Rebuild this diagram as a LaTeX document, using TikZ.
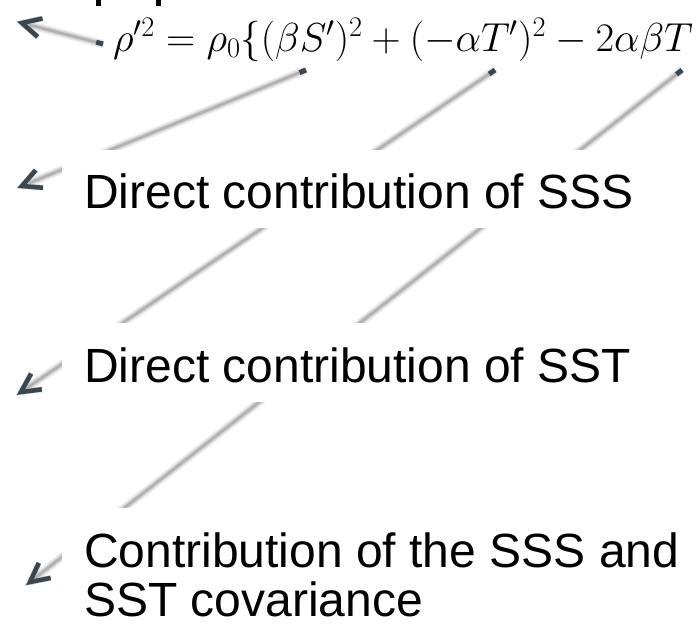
\documentclass[tikz,border=0pt]{standalone}
\usepackage{fix-cm}
\usepackage{fontspec}
\setmainfont{Liberation Sans}
\usetikzlibrary{calc}
\definecolor{arrowdark}{HTML}{3B4650}
\tikzset{
  x=1pt, y=-1pt,
  labeltext/.style={font=\fontsize{48}{49}\selectfont, anchor=base west, inner sep=0pt, align=left},
  eqtext/.style={font=\fontsize{40.5}{44}\selectfont, anchor=base west, inner sep=0pt},
  shaft/.style={draw=black!30, line width=2.8pt,
    preaction={draw=black!7, line width=8.5pt},
    preaction={draw=black!16, line width=5.5pt}},
  stub/.style={draw=arrowdark, line width=5pt},
  barb/.style={draw=arrowdark, line width=4.5pt, line join=miter},
  barbshadow/.style={draw=black!22, line width=5.5pt, line join=miter},
  coverbox/.style={fill=white, draw=none}
}
\newcommand{\myarrow}[2]{%
  \draw[shaft] (#1) -- (#2);
  \draw[stub] (#1) -- ($(#1)!7pt!(#2)$);
  \draw[barbshadow, shift={(1.5,2.5)}] ($(#2)!21pt!27:(#1)$) -- (#2) -- ($(#2)!21pt!-27:(#1)$);
  \draw[barb] ($(#2)!21pt!27:(#1)$) -- (#2) -- ($(#2)!21pt!-27:(#1)$);
}
\begin{document}
\begin{tikzpicture}
\useasboundingbox[fill=white] (0,0) rectangle (698,630);

% fragments of a cut-off line of text at the top edge
\fill[black] (96,0) rectangle (101,6);
\fill[black] (156,0) rectangle (161,6);

% arrow end points
\coordinate (t0) at (103,44);
\coordinate (h0) at (22,23);
\coordinate (t1) at (306,70);
\coordinate (h1) at (22,186);
\coordinate (t2) at (495,70);
\coordinate (h2) at (21,392);
\coordinate (t3) at (682,70);
\coordinate (h3) at (30,582);

\myarrow{t0}{h0}
\myarrow{t1}{h1}
\myarrow{t2}{h2}
\myarrow{t3}{h3}

% white text boxes hiding parts of the connectors
\fill[coverbox] (62,150) rectangle (698,228);
\fill[coverbox] (62,323) rectangle (698,402);
\fill[coverbox] (62,508) rectangle (698,630);

\node[eqtext] (eq) at (113,51) {$\rho'^2 = \rho_0\{(\beta S')^2 + (-\alpha T')^2 - 2\alpha\beta T$};
\node[labeltext] (sss) at (84,208) {Direct contribution of SSS};
\node[labeltext] (sst) at (84,382) {Direct contribution of SST};
\node[labeltext] (cov) at (84,616) {Contribution of the SSS and\\SST covariance};
\end{tikzpicture}
\end{document}
